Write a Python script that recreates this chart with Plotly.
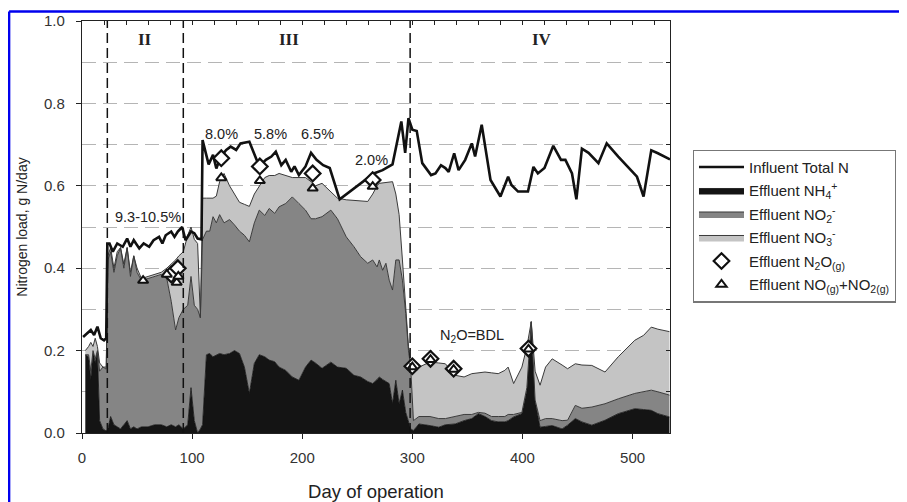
import plotly.graph_objects as go

# ---------------- data ----------------
inf_days = [1, 4, 8, 11, 14, 17, 20, 22, 23, 25, 28, 32, 37, 41, 44, 47, 52, 56, 61, 65, 70, 73, 76, 81, 84, 87, 91,
            94, 99, 102, 105, 108.5, 109.5, 115, 119, 122, 126, 131, 135, 140, 144, 152, 157, 161, 167, 172, 176, 181,
            185, 190, 193, 197, 203, 208, 213, 219, 225, 234, 265, 273, 282, 290, 293.5, 296.5, 300, 304, 309, 317,
            321, 326, 330, 333, 338, 342, 348, 354, 357, 363, 371, 380, 387, 390, 396, 405, 410, 414, 420, 428, 435,
            439, 445, 449, 454, 460, 469, 476.5, 487, 504, 510, 517, 523, 534]
influent_total_n = [0.233, 0.24, 0.25, 0.238, 0.258, 0.23, 0.225, 0.23, 0.46, 0.46, 0.44, 0.46, 0.452, 0.472, 0.452,
                    0.468, 0.448, 0.46, 0.452, 0.468, 0.476, 0.46, 0.48, 0.489, 0.476, 0.489, 0.50, 0.468, 0.489, 0.485,
                    0.472, 0.47, 0.711, 0.652, 0.675, 0.642, 0.671, 0.687, 0.695, 0.687, 0.703, 0.707, 0.671, 0.647,
                    0.663, 0.671, 0.683, 0.650, 0.663, 0.634, 0.647, 0.626, 0.647, 0.68, 0.663, 0.65, 0.643, 0.567,
                    0.63, 0.638, 0.652, 0.756, 0.68, 0.764, 0.736, 0.733, 0.655, 0.626, 0.63, 0.65, 0.643, 0.634,
                    0.679, 0.638, 0.663, 0.703, 0.671, 0.748, 0.614, 0.574, 0.622, 0.602, 0.586, 0.586, 0.646, 0.63,
                    0.643, 0.697, 0.663, 0.663, 0.63, 0.567, 0.69, 0.68, 0.655, 0.703, 0.671, 0.622, 0.574, 0.686,
                    0.679, 0.664]

eff_days = [3, 6, 8, 10, 12, 14, 16, 19, 22, 23.5, 26, 29, 32, 35, 38, 41, 44, 47, 50, 54, 60, 66, 72, 77, 81, 85,
            88, 92, 96, 99, 102, 105, 107.5, 109.5, 113, 116, 119, 122, 125, 129, 134, 138.5, 143, 147.5, 152, 156.5,
            161, 166, 170, 175, 179, 185, 191, 197, 203, 208, 212, 218, 226, 232, 240, 247, 253, 259.5, 264, 268,
            270, 273, 276, 279, 282, 285, 288, 291, 294, 296.5, 298.5, 301, 306, 316, 324, 330, 339, 347, 354, 360,
            366, 372, 378, 384, 387, 392, 399.5, 404, 408, 411.5, 416, 421, 427, 436, 441, 448, 454, 463, 475, 487,
            502, 510, 517, 523, 533.5]
eff_nh4 = [0.19, 0.185, 0.13, 0.20, 0.17, 0.20, 0.03, 0.01, 0.005, 0.01, 0.04, 0.02, 0.015, 0.01, 0.02, 0.03, 0.01,
           0.015, 0.01, 0.015, 0.015, 0.02, 0.02, 0.015, 0.02, 0.015, 0.02, 0.01, 0.02, 0.11, 0.03, 0.0, 0.01, 0.02,
           0.19, 0.193, 0.185, 0.19, 0.193, 0.19, 0.193, 0.20, 0.193, 0.16, 0.096, 0.169, 0.19, 0.185, 0.177, 0.173,
           0.16, 0.152, 0.136, 0.128, 0.16, 0.177, 0.17, 0.157, 0.172, 0.16, 0.157, 0.14, 0.136, 0.125, 0.12, 0.13,
           0.136, 0.13, 0.125, 0.12, 0.071, 0.128, 0.071, 0.104, 0.05, 0.03, 0.01, 0.006, 0.022, 0.018, 0.014, 0.02,
           0.022, 0.03, 0.035, 0.047, 0.04, 0.03, 0.027, 0.027, 0.03, 0.039, 0.047, 0.104, 0.27, 0.078, 0.014, 0.016,
           0.018, 0.01, 0.019, 0.035, 0.027, 0.019, 0.031, 0.047, 0.059, 0.057, 0.055, 0.047, 0.039]
eff_no2 = [0.0, 0.005, 0.02, 0.0, 0.01, 0.0, 0.12, 0.15, 0.15, 0.41, 0.40, 0.37, 0.415, 0.44, 0.38, 0.42, 0.37, 0.415,
           0.38, 0.355, 0.36, 0.36, 0.365, 0.36, 0.30, 0.235, 0.26, 0.29, 0.29, 0.27, 0.28, 0.30, 0.27, 0.45, 0.30,
           0.297, 0.34, 0.32, 0.337, 0.32, 0.325, 0.305, 0.297, 0.32, 0.368, 0.341, 0.351, 0.343, 0.368, 0.36, 0.389,
           0.405, 0.437, 0.429, 0.381, 0.343, 0.35, 0.368, 0.369, 0.36, 0.319, 0.312, 0.292, 0.287, 0.30, 0.273,
           0.284, 0.265, 0.287, 0.251, 0.276, 0.292, 0.349, 0.267, 0.24, 0.17, 0.15, 0.024, 0.018, 0.022, 0.021,
           0.015, 0.018, 0.015, 0.01, 0.003, 0.008, 0.01, 0.013, 0.013, 0.015, 0.006, 0.003, 0.006, 0.0, 0.002,
           0.016, 0.019, 0.017, 0.02, 0.012, 0.032, 0.033, 0.044, 0.04, 0.036, 0.037, 0.043, 0.049, 0.053, 0.053]
eff_no3 = [0.01, 0.02, 0.07, 0.01, 0.05, 0.01, 0.02, 0.0, 0.005, 0.01, 0.01, 0.01, 0.01, 0.0, 0.01, 0.0, 0.01, 0.0,
           0.01, 0.005, 0.005, 0.005, 0.005, 0.025, 0.09, 0.17, 0.15, 0.14, 0.17, 0.12, 0.16, 0.16, 0.0, 0.10, 0.08,
           0.08, 0.045, 0.065, 0.08, 0.12, 0.082, 0.075, 0.07, 0.075, 0.086, 0.07, 0.059, 0.092, 0.08, 0.092, 0.081,
           0.068, 0.047, 0.063, 0.079, 0.09, 0.08, 0.081, 0.044, 0.05, 0.09, 0.112, 0.135, 0.15, 0.16, 0.197, 0.186,
           0.212, 0.196, 0.238, 0.263, 0.16, 0.11, 0.049, 0.01, 0.01, 0.01, 0.138, 0.12, 0.132, 0.135, 0.133, 0.10,
           0.091, 0.099, 0.096, 0.10, 0.106, 0.104, 0.112, 0.115, 0.075, 0.11, 0.099, 0.0, 0.07, 0.086, 0.125, 0.145,
           0.135, 0.125, 0.101, 0.105, 0.101, 0.077, 0.102, 0.129, 0.137, 0.153, 0.152, 0.154]

n2o_days = [81, 87, 126.5, 161.5, 209.5, 264, 300, 316.5, 337.5, 405.5]
n2o_vals = [0.385, 0.40, 0.667, 0.647, 0.63, 0.614, 0.162, 0.18, 0.156, 0.205]
nox_days = [55.5, 77, 86, 87.5, 126.5, 161.5, 209.5, 264, 300, 316.5, 337.5, 405.5]
nox_vals = [0.37, 0.385, 0.365, 0.38, 0.619, 0.612, 0.594, 0.598, 0.16, 0.178, 0.154, 0.203]

phase_bounds = [23, 92, 298]
phase_labels = ["II", "III", "IV"]
phase_label_days = [57, 188, 418]
note_texts = ["9.3-10.5%", "8.0%", "5.8%", "6.5%", "2.0%", "N<sub>2</sub>O=BDL"]
note_days = [60, 127, 171, 214, 263, 354]
note_vals = [0.525, 0.725, 0.725, 0.725, 0.662, 0.235]

FONT = "Liberation Sans, Arial, sans-serif"

fig = go.Figure()

# stacked effluent areas
fig.add_trace(go.Scatter(x=eff_days, y=eff_nh4, stackgroup="eff", mode="lines",
                         line=dict(color="#111111", width=0.8), fillcolor="#141414",
                         name="Effluent NH<sub>4</sub><sup>+</sup>", legendrank=2, legendgroup="g2"))
fig.add_trace(go.Scatter(x=eff_days, y=eff_no2, stackgroup="eff", mode="lines",
                         line=dict(color="#3a3a3a", width=1), fillcolor="#858585",
                         name="Effluent NO<sub>2</sub><sup>-</sup>", legendrank=3, legendgroup="g3"))
fig.add_trace(go.Scatter(x=eff_days, y=eff_no3, stackgroup="eff", mode="lines",
                         line=dict(color="#3a3a3a", width=1), fillcolor="#c4c4c4",
                         name="Effluent NO<sub>3</sub><sup>-</sup>", legendrank=4, legendgroup="g4"))
# influent
fig.add_trace(go.Scatter(x=inf_days, y=influent_total_n, mode="lines",
                         line=dict(color="#111111", width=2.6), name="Influent Total N",
                         legendrank=1, legendgroup="g1"))
# gases
fig.add_trace(go.Scatter(x=n2o_days, y=n2o_vals, mode="markers",
                         marker=dict(symbol="diamond", size=12, color="white",
                                     line=dict(color="#111111", width=2.2)),
                         name="Effluent N<sub>2</sub>O<sub>(g)</sub>", legendrank=5, legendgroup="g5"))
fig.add_trace(go.Scatter(x=nox_days, y=nox_vals, mode="markers",
                         marker=dict(symbol="triangle-up", size=9, color="white",
                                     line=dict(color="#111111", width=2)),
                         name="Effluent NO<sub>(g)</sub>+NO<sub>2(g)</sub>", legendrank=6, legendgroup="g6"))
# invisible trace for the top/right tick axes
fig.add_trace(go.Scatter(x=[], y=[], xaxis="x2", yaxis="y2", showlegend=False, hoverinfo="skip"))

shapes = []
for d in phase_bounds:
    shapes.append(dict(type="line", xref="x", yref="paper", x0=d, x1=d, y0=0, y1=1,
                       line=dict(color="#111111", width=1.5, dash="10px,5px"), layer="above"))
# blue frame around picture (left and top)
shapes.append(dict(type="line", xref="paper", yref="paper", x0=-0.124, x1=-0.124, y0=-0.2, y1=1.023,
                   line=dict(color="#0000ee", width=2.5)))
shapes.append(dict(type="line", xref="paper", yref="paper", x0=-0.124, x1=1.5, y0=1.023, y1=1.023,
                   line=dict(color="#0000ee", width=2.5)))

annotations = []
for t, d in zip(phase_labels, phase_label_days):
    annotations.append(dict(x=d, y=0.955, xref="x", yref="y", text="<b>" + t + "</b>", showarrow=False,
                            font=dict(family="Liberation Serif, Times New Roman, serif", size=17, color="#222")))
for t, d, v in zip(note_texts, note_days, note_vals):
    annotations.append(dict(x=d, y=v, xref="x", yref="y", text=t, showarrow=False,
                            font=dict(family=FONT, size=14.5, color="#222")))

# page body has an 8px margin: figure is sized/positioned to compensate
fig.update_layout(
    width=899, height=494,
    margin=dict(l=74, r=236, t=13, b=69),
    paper_bgcolor="white", plot_bgcolor="white",
    font=dict(family=FONT, color="#222"),
    showlegend=True,
    legend=dict(x=1.037, y=0.688, xanchor="left", yanchor="top", traceorder="grouped",
                tracegroupgap=1, itemwidth=45, bordercolor="#777", borderwidth=1.2, bgcolor="white",
                font=dict(family=FONT, size=15, color="#222")),
    xaxis=dict(range=[0, 534], dtick=100, tick0=0, ticks="outside", ticklen=5, tickcolor="#222",
               showline=True, linecolor="#222", linewidth=1.2, mirror=True, showgrid=False, zeroline=False,
               ticklabelstandoff=6, automargin=False,
               tickfont=dict(size=15, color="#333"),
               title=dict(text="Day of operation", font=dict(size=18.5, color="#222"), standoff=19)),
    yaxis=dict(range=[0, 1.0], dtick=0.2, tick0=0, tickformat=".1f", ticks="outside", ticklen=5,
               tickcolor="#222", showline=True, linecolor="#222", linewidth=1.2, mirror=True,
               showgrid=True, gridcolor="#b5b5b5", gridwidth=1.2, griddash="14px,7px", zeroline=False,
               minor=dict(dtick=0.1, showgrid=True, gridcolor="#b5b5b5", gridwidth=1.2, griddash="14px,7px"),
               ticklabelstandoff=8, automargin=False,
               tickfont=dict(size=15, color="#333"),
               title=dict(text="Nitrogen load, g N/day", font=dict(size=14, color="#222"), standoff=13)),
    xaxis2=dict(overlaying="x", side="top", anchor="y", range=[0, 534], dtick=20, tick0=0, ticks="inside",
                ticklen=4, tickcolor="#222", showticklabels=False, showgrid=False, zeroline=False, showline=False,
                automargin=False),
    yaxis2=dict(overlaying="y", side="right", anchor="x", range=[0, 1.0], dtick=0.1, tick0=0, ticks="inside",
                ticklen=4, tickcolor="#222", showticklabels=False, showgrid=False, zeroline=False, showline=False,
                automargin=False),
    shapes=shapes,
    annotations=annotations,
)

fig.write_html("out.html")
